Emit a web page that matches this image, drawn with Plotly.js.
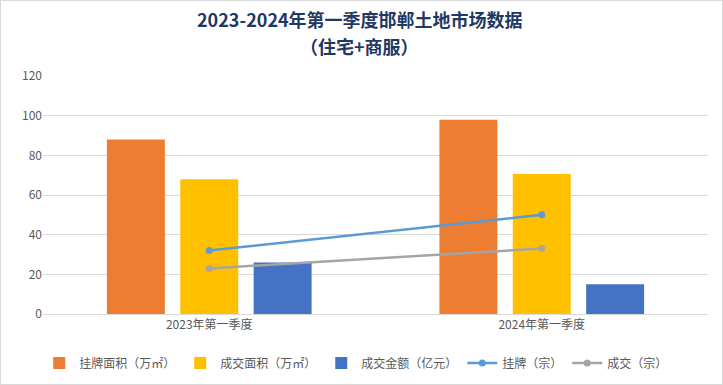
<!DOCTYPE html>
<html>
<head>
<meta charset="utf-8">
<script src="https://cdn.plot.ly/plotly-3.0.1.min.js"></script>
<style>
html,body{margin:0;padding:0;background:#fff;}
#chart{width:721px;height:383px;border:1px solid #d9d9d9;}
</style>
</head>
<body>
<div id="chart"></div>
<script>
const categories = ['2023年第一季度', '2024年第一季度'];
const listedArea = [88, 98];     // 挂牌面积（万㎡）
const soldArea = [68, 70.6];     // 成交面积（万㎡）
const soldAmount = [26, 15];     // 成交金额（亿元）
const listedCount = [32, 50];    // 挂牌（宗）
const soldCount = [23, 33];      // 成交（宗）
const yTicks = [0, 20, 40, 60, 80, 100, 120];
const titleLines = ['2023-2024年第一季度邯郸土地市场数据', '（住宅+商服）'];

const font = 'Noto Sans CJK SC, Noto Sans, sans-serif';

const traces = [
  {type:'bar', name:'挂牌面积（万㎡）', x:categories, y:listedArea, marker:{color:'#ed7d31'}},
  {type:'bar', name:'成交面积（万㎡）', x:categories, y:soldArea, marker:{color:'#ffc000'}},
  {type:'bar', name:'成交金额（亿元）', x:categories, y:soldAmount, marker:{color:'#4472c4'}},
  {type:'scatter', mode:'lines+markers', name:'挂牌（宗）', x:categories, y:listedCount,
   line:{color:'#5b9bd5', width:2.5}, marker:{color:'#5b9bd5', size:7}},
  {type:'scatter', mode:'lines+markers', name:'成交（宗）', x:categories, y:soldCount,
   line:{color:'#a5a5a5', width:2.5}, marker:{color:'#a5a5a5', size:7}}
];

const plotH = 238;
const titleFont = {family:font, size:18, color:'#1f3864'};
const layout = {
  width:721, height:383,
  margin:{l:42, r:14, t:75, b:70},
  paper_bgcolor:'#fff', plot_bgcolor:'#fff',
  font:{family:font, size:12, color:'#595959'},
  annotations:[
    {text:'<b>' + titleLines[0] + '</b>', xref:'paper', yref:'paper', x:0.476, y:1 + 57/plotH,
     xanchor:'center', yanchor:'middle', showarrow:false, font:titleFont},
    {text:'<b>' + titleLines[1] + '</b>', xref:'paper', yref:'paper', x:0.476, y:1 + 30/plotH,
     xanchor:'center', yanchor:'middle', showarrow:false, font:titleFont}
  ],
  barmode:'group', bargap:0.338, bargroupgap:0.21,
  xaxis:{type:'category', showgrid:false, showline:true, linecolor:'#d9d9d9', linewidth:1,
         ticks:'', tickfont:{size:12, color:'#595959'}, fixedrange:true},
  yaxis:{range:[0,120], tickvals:yTicks, showgrid:true, gridcolor:'#d9d9d9', gridwidth:1,
         zeroline:false, showline:false, ticks:'', ticklen:0, tickfont:{size:12, color:'#595959'},
         fixedrange:true, automargin:false},
  legend:{orientation:'h', x:0.471, xanchor:'center', yref:'container', y:0.055, yanchor:'middle',
          font:{size:12, color:'#595959'}, traceorder:'normal', itemwidth:30},
  showlegend:true
};

Plotly.newPlot('chart', traces, layout, {displayModeBar:false, staticPlot:true});
</script>
</body>
</html>
